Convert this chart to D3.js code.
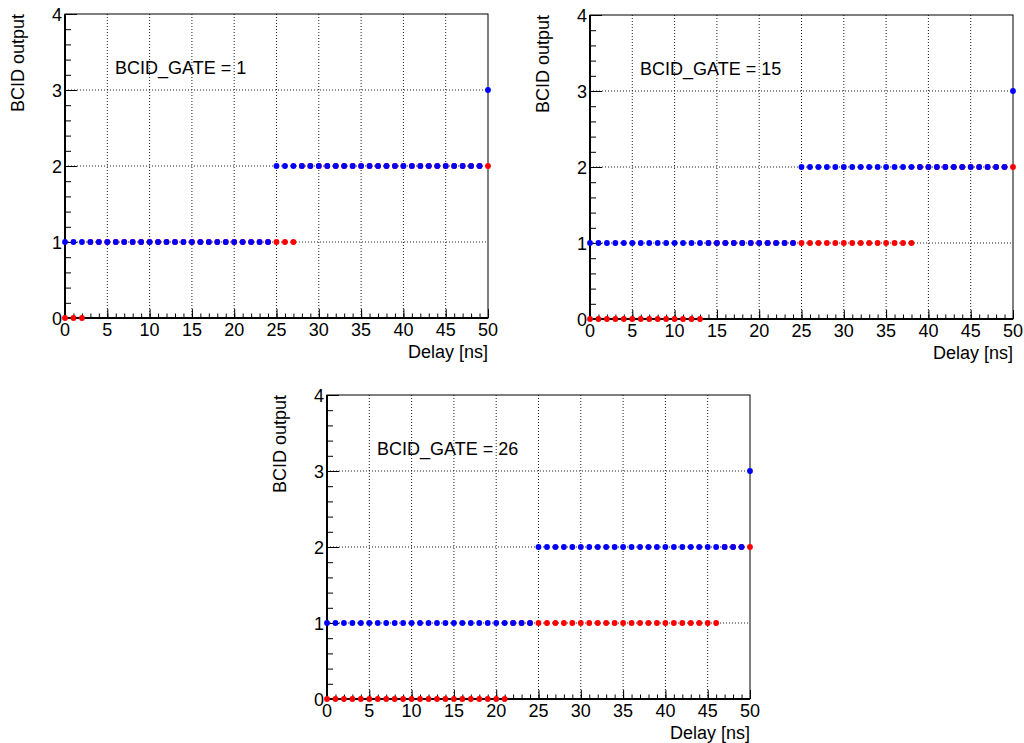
<!DOCTYPE html>
<html lang="en">
<head>
<meta charset="UTF-8">
<title>BCID output vs delay</title>
<script src="https://cdn.jsdelivr.net/npm/d3@7/dist/d3.min.js"></script>
<style>
  body { margin: 0; background: #fff; }
  text { font-family: "Liberation Sans", Arial, Helvetica, sans-serif; }
</style>
</head>
<body>
<script>
// delay scan points [ns]
var delay = [0,1,2,3,4,5,6,7,8,9,10,11,12,13,14,15,16,17,18,19,20,21,22,23,24,25,
             26,27,28,29,30,31,32,33,34,35,36,37,38,39,40,41,42,43,44,45,46,47,48,49,50];

// reference BCID output (blue), same for every gate setting
var bcidRef = [1,1,1,1,1,1,1,1,1,1,1,1,1,1,1,1,1,1,1,1,1,1,1,1,1,
               2,2,2,2,2,2,2,2,2,2,2,2,2,2,2,2,2,2,2,2,2,2,2,2,2,
               3];

// BCID output with gate applied (red)
var bcidGate1 = [0,0,0,1,1,1,1,1,1,1,1,1,1,1,1,1,1,1,1,1,1,1,1,1,1,
                 1,1,1,2,2,2,2,2,2,2,2,2,2,2,2,2,2,2,2,2,2,2,2,2,2,
                 2];
var bcidGate15 = [0,0,0,0,0,0,0,0,0,0,0,0,0,0,1,1,1,1,1,1,1,1,1,1,1,
                  1,1,1,1,1,1,1,1,1,1,1,1,1,1,2,2,2,2,2,2,2,2,2,2,2,
                  2];
var bcidGate26 = [0,0,0,0,0,0,0,0,0,0,0,0,0,0,0,0,0,0,0,0,0,0,1,1,1,
                  1,1,1,1,1,1,1,1,1,1,1,1,1,1,1,1,1,1,1,1,1,1,2,2,2,
                  2];

var gateLabels = ["BCID_GATE = 1", "BCID_GATE = 15", "BCID_GATE = 26"];
var gateSeries = [bcidGate1, bcidGate15, bcidGate26];

var xTicks = [0,5,10,15,20,25,30,35,40,45,50];
var yTicks = [0,1,2,3,4];

var W = 1024, H = 743;
var pw = 423, ph = 304;
var pads = [{x: 65, y: 14}, {x: 590, y: 15}, {x: 327, y: 395}];

var svg = d3.select("body").append("svg").attr("width", W).attr("height", H);

pads.forEach(function (p, k) {
  var g = svg.append("g").attr("transform", "translate(" + p.x + "," + p.y + ")");
  var x = d3.scaleLinear().domain([0, 50]).range([0, pw]);
  var y = d3.scaleLinear().domain([0, 4]).range([ph, 0]);

  // dotted grid
  g.append("g").selectAll("line").data(xTicks.slice(1, -1)).enter().append("line")
    .attr("x1", function (d) { return x(d); }).attr("x2", function (d) { return x(d); })
    .attr("y1", 0).attr("y2", ph)
    .attr("stroke", "#222").attr("stroke-width", 1).attr("stroke-dasharray", "1,2");
  g.append("g").selectAll("line").data(yTicks.slice(1, -1)).enter().append("line")
    .attr("y1", function (d) { return y(d); }).attr("y2", function (d) { return y(d); })
    .attr("x1", 0).attr("x2", pw)
    .attr("stroke", "#222").attr("stroke-width", 1).attr("stroke-dasharray", "1,2");

  // frame
  g.append("rect").attr("x", 0).attr("y", 0).attr("width", pw).attr("height", ph)
    .attr("fill", "none").attr("stroke", "#000").attr("stroke-width", 1);

  // x axis: major every 5, minor every 1
  g.append("g").attr("transform", "translate(0," + ph + ")")
    .call(d3.axisTop(x).tickValues(delay).tickSize(4.5).tickFormat(""));
  g.append("g").attr("transform", "translate(0," + ph + ")")
    .call(d3.axisTop(x).tickValues(xTicks).tickSize(9).tickFormat(""));
  g.selectAll(".domain").remove();
  g.append("line").attr("x1", 0).attr("x2", pw).attr("y1", ph).attr("y2", ph)
    .attr("stroke", "#000").attr("stroke-width", 2);

  // y axis: major every 1, minor every 0.2
  g.append("g").call(d3.axisRight(y).tickValues(d3.range(0, 4.01, 0.2)).tickSize(6).tickFormat(""));
  g.append("g").call(d3.axisRight(y).tickValues(yTicks).tickSize(12).tickFormat(""));
  g.selectAll(".domain").remove();
  g.append("line").attr("x1", 0).attr("x2", 0).attr("y1", 0).attr("y2", ph)
    .attr("stroke", "#000").attr("stroke-width", 2);
  g.selectAll(".tick line").attr("stroke", "#000");

  // tick labels
  g.append("g").selectAll("text").data(xTicks).enter().append("text")
    .attr("x", function (d) { return x(d); }).attr("y", ph + 18)
    .attr("text-anchor", "middle").attr("font-size", 18).text(function (d) { return d; });
  g.append("g").selectAll("text").data(yTicks).enter().append("text")
    .attr("x", -3).attr("y", function (d) { return y(d) + 6.5; })
    .attr("text-anchor", "end").attr("font-size", 18).text(function (d) { return d; });

  // axis titles
  g.append("text").attr("x", pw).attr("y", ph + 40).attr("text-anchor", "end")
    .attr("font-size", 18).text("Delay [ns]");
  g.append("text").attr("transform", "translate(-41,0) rotate(-90)")
    .attr("text-anchor", "end").attr("font-size", 18).text("BCID output");

  // gate label
  g.append("text").attr("x", 50).attr("y", 60).attr("font-size", 18).text(gateLabels[k]);

  // markers: gated output first, reference on top
  var red = gateSeries[k];
  g.append("g").selectAll("circle").data(delay).enter().append("circle")
    .attr("cx", function (d) { return x(d); })
    .attr("cy", function (d, i) { return y(red[i]); })
    .attr("r", 2.9).attr("fill", "#ff0000");
  g.append("g").selectAll("circle").data(delay).enter().append("circle")
    .attr("cx", function (d) { return x(d); })
    .attr("cy", function (d, i) { return y(bcidRef[i]); })
    .attr("r", 2.9).attr("fill", "#0000ff");
});
</script>
</body>
</html>
